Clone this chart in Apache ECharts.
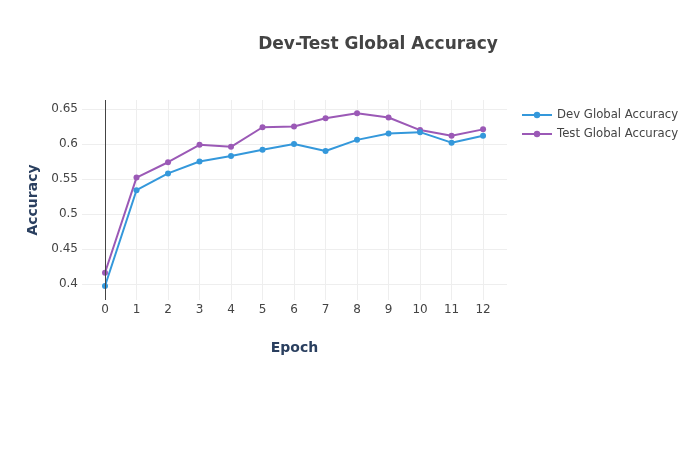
<!DOCTYPE html>
<html>
<head>
<meta charset="utf-8">
<script src="https://cdn.jsdelivr.net/npm/echarts@6/dist/echarts.min.js"></script>
<style>html,body{margin:0;padding:0;background:#fff}#c{width:700px;height:450px}</style>
</head>
<body>
<div id="c"></div>
<script>
const epochs = [0,1,2,3,4,5,6,7,8,9,10,11,12];
const devAcc = [0.397,0.534,0.558,0.575,0.583,0.592,0.600,0.590,0.606,0.615,0.617,0.602,0.612];
const testAcc = [0.416,0.552,0.574,0.599,0.596,0.624,0.625,0.637,0.644,0.638,0.620,0.612,0.621];
const yTicks = [0.4,0.45,0.5,0.55,0.6,0.65];
const xTicks = [0,1,2,3,4,5,6,7,8,9,10,11,12];

const font = 'DejaVu Sans, Verdana, sans-serif';
const chart = echarts.init(document.getElementById('c'));
chart.setOption({
  animation: false,
  backgroundColor: '#fff',
  title: {
    text: 'Dev-Test Global Accuracy',
    left: 378, top: 36, textAlign: 'center', padding: 0,
    textStyle: {fontFamily: font, fontSize: 17, fontWeight: 'bold', color: '#444'}
  },
  legend: {
    orient: 'vertical', left: 521, top: 109, itemGap: 7, padding: 0,
    itemWidth: 30, itemHeight: 8,
    textStyle: {fontFamily: font, fontSize: 11.7, color: '#444'},
    data: ['Dev Global Accuracy', 'Test Global Accuracy']
  },
  grid: {left: 82, top: 100, width: 425, height: 200, containLabel: false},
  xAxis: {
    type: 'value', min: -0.73, max: 12.76,
    name: 'Epoch', nameLocation: 'middle', nameGap: 41,
    nameTextStyle: {fontFamily: font, fontSize: 14, fontWeight: 'bold', color: '#2a3f5f'},
    axisLine: {show: false},
    axisTick: {show: false, customValues: xTicks},
    axisLabel: {customValues: xTicks, fontFamily: font, fontSize: 12, color: '#444', margin: 4},
    splitLine: {show: true, lineStyle: {color: '#eee', width: 1}}
  },
  yAxis: {
    type: 'value', min: 0.377, max: 0.663,
    name: 'Accuracy', nameLocation: 'middle', nameGap: 32, nameRotate: 90,
    nameTextStyle: {fontFamily: font, fontSize: 14, fontWeight: 'bold', color: '#2a3f5f'},
    axisLine: {show: false},
    axisTick: {show: false, customValues: yTicks},
    axisLabel: {customValues: yTicks, fontFamily: font, fontSize: 12, color: '#444', margin: 4,
      formatter: v => String(parseFloat(v.toFixed(2)))},
    splitLine: {show: true, lineStyle: {color: '#eee', width: 1}}
  },
  series: [
    {
      name: 'Dev Global Accuracy', type: 'line',
      data: epochs.map((e, i) => [e, devAcc[i]]),
      symbol: 'circle', symbolSize: 6,
      lineStyle: {color: '#3498db', width: 2},
      itemStyle: {color: '#3498db'},
      markLine: {
        silent: true, symbol: 'none', label: {show: false},
        lineStyle: {color: '#444', width: 1, type: 'solid'},
        data: [{xAxis: 0}]
      },
      z: 3
    },
    {
      name: 'Test Global Accuracy', type: 'line',
      data: epochs.map((e, i) => [e, testAcc[i]]),
      symbol: 'circle', symbolSize: 6,
      lineStyle: {color: '#9b59b6', width: 2},
      itemStyle: {color: '#9b59b6'},
      z: 2
    }
  ]
});
</script>
</body>
</html>
